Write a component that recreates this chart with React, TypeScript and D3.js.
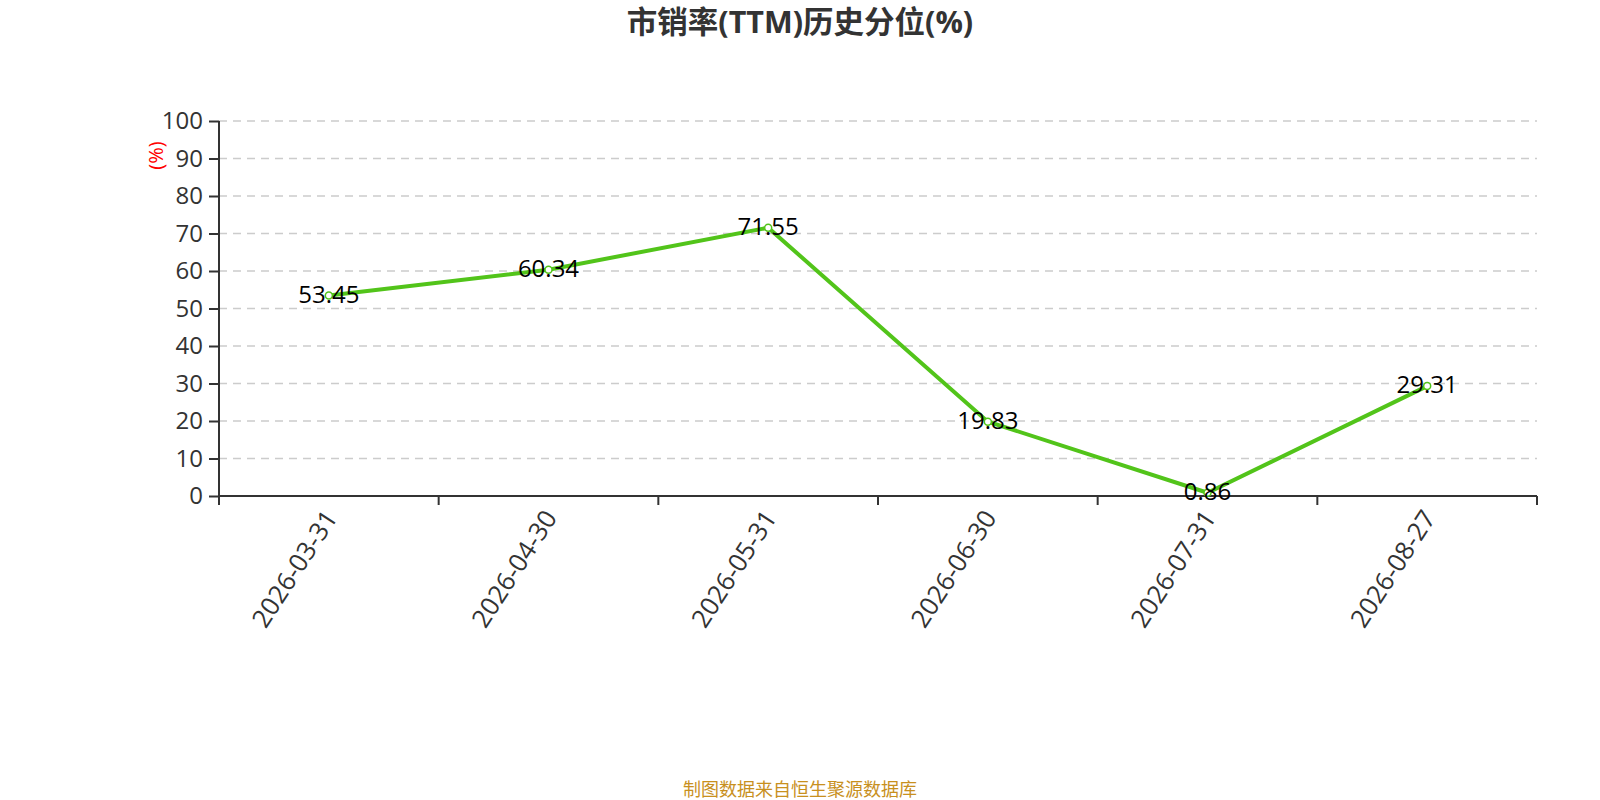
import React, { useEffect, useRef } from 'react';
import * as d3 from 'd3';

const dates = ['2026-03-31', '2026-04-30', '2026-05-31', '2026-06-30', '2026-07-31', '2026-08-27'];
const percentiles = [53.45, 60.34, 71.55, 19.83, 0.86, 29.31];
const yTicks = [0, 10, 20, 30, 40, 50, 60, 70, 80, 90, 100];

const title = '市销率(TTM)历史分位(%)';
const footer = '制图数据来自恒生聚源数据库';

const App: React.FC = () => {
  const svgRef = useRef<SVGSVGElement>(null);

  useEffect(() => {
    if (!svgRef.current) return;
    const width = 1600;
    const height = 800;
    const margin = { top: 121, right: 63, bottom: 304, left: 219 };
    const font = '"Open Sans", "Noto Sans CJK SC", sans-serif';

    const root = d3.select(svgRef.current);
    root.selectAll('*').remove();
    root.attr('width', width).attr('height', height);

    const innerW = width - margin.left - margin.right;
    const innerH = height - margin.top - margin.bottom;

    const svg = root.append('g').attr('transform', `translate(${margin.left}, ${margin.top})`);

    const xScale = d3.scaleBand<string>().domain(dates).range([0, innerW]);
    const yScale = d3.scaleLinear().domain([0, 100]).range([innerH, 0]);

    // grid lines
    svg
      .append('g')
      .selectAll('line')
      .data(yTicks.filter((t) => t > 0))
      .join('line')
      .attr('x1', 0)
      .attr('x2', innerW)
      .attr('y1', (d) => yScale(d))
      .attr('y2', (d) => yScale(d))
      .attr('stroke', '#cccccc')
      .attr('stroke-width', 1.5)
      .attr('stroke-dasharray', '8,6');

    // y axis
    const yAxis = svg
      .append('g')
      .call(d3.axisLeft(yScale).tickValues(yTicks).tickSize(10).tickPadding(6));
    yAxis.select('.domain').attr('stroke', '#333').attr('stroke-width', 2).attr('d', `M0,${innerH}V0`);
    yAxis.selectAll('.tick line').attr('stroke', '#333').attr('stroke-width', 2);
    yAxis
      .selectAll('.tick text')
      .attr('fill', '#333')
      .style('font-family', font)
      .style('font-size', '24px');

    // x axis
    const xAxisG = svg.append('g').attr('transform', `translate(0, ${innerH})`);
    xAxisG
      .append('line')
      .attr('x1', 0)
      .attr('x2', innerW)
      .attr('stroke', '#333')
      .attr('stroke-width', 2);
    const boundaries = dates.map((d) => xScale(d) as number).concat([innerW]);
    xAxisG
      .selectAll('line.tick')
      .data(boundaries)
      .join('line')
      .attr('class', 'tick')
      .attr('x1', (d) => d)
      .attr('x2', (d) => d)
      .attr('y1', 0)
      .attr('y2', 9)
      .attr('stroke', '#333')
      .attr('stroke-width', 2);
    xAxisG
      .selectAll('text')
      .data(dates)
      .join('text')
      .attr(
        'transform',
        (d) => `translate(${(xScale(d) as number) + xScale.bandwidth() / 2 + 2}, 17) rotate(-57)`
      )
      .attr('text-anchor', 'end')
      .attr('dy', '0.35em')
      .attr('fill', '#333')
      .style('font-family', font)
      .style('font-size', '25.5px')
      .text((d) => d);

    // y axis name
    svg
      .append('text')
      .attr('transform', `translate(${-63}, ${yScale(90) - 3}) rotate(-90)`)
      .attr('text-anchor', 'middle')
      .attr('dy', '0.35em')
      .attr('fill', 'red')
      .style('font-family', font)
      .style('font-size', '20px')
      .text('(%)');

    const cx = (i: number) => (xScale(dates[i]) as number) + xScale.bandwidth() / 2;

    const line = d3
      .line<number>()
      .x((_, i) => cx(i))
      .y((d) => yScale(d));

    svg
      .append('path')
      .datum(percentiles)
      .attr('fill', 'none')
      .attr('stroke', '#52c41a')
      .attr('stroke-width', 4)
      .attr('d', line);

    svg
      .selectAll('circle')
      .data(percentiles)
      .join('circle')
      .attr('cx', (_, i) => cx(i))
      .attr('cy', (d) => yScale(d))
      .attr('r', 3.5)
      .attr('fill', '#fff')
      .attr('stroke', '#52c41a')
      .attr('stroke-width', 1.5);

    svg
      .selectAll('text.label')
      .data(percentiles)
      .join('text')
      .attr('class', 'label')
      .attr('x', (_, i) => cx(i))
      .attr('y', (d) => yScale(d))
      .attr('text-anchor', 'middle')
      .attr('dy', '0.3em')
      .attr('fill', '#000')
      .style('font-family', font)
      .style('font-size', '24px')
      .text((d) => d.toFixed(2));

    // title
    root
      .append('text')
      .attr('x', width / 2)
      .attr('y', 33)
      .attr('text-anchor', 'middle')
      .attr('fill', '#333')
      .style('font-family', font)
      .style('font-weight', 'bold')
      .style('font-size', '30.5px')
      .text(title);

    // footer
    root
      .append('text')
      .attr('x', width / 2)
      .attr('y', 796)
      .attr('text-anchor', 'middle')
      .attr('fill', '#c8901e')
      .style('font-family', font)
      .style('font-size', '18px')
      .text(footer);
  }, []);

  return (
    <div style={{ position: 'absolute', left: 0, top: 0, width: 1600, height: 800, background: '#fff' }}>
      <svg ref={svgRef}></svg>
    </div>
  );
};

export default App;
